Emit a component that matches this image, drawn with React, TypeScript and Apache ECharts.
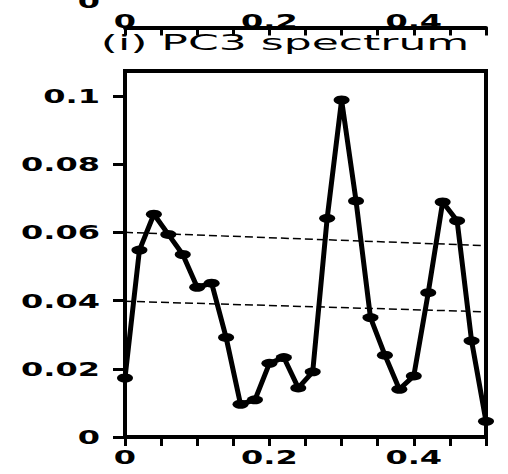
import React, { useEffect, useRef } from "react";
import * as echarts from "echarts";

const freqs = [0, 0.02, 0.04, 0.06, 0.08, 0.1, 0.12, 0.14, 0.16, 0.18, 0.2, 0.22, 0.24, 0.26, 0.28, 0.3, 0.32, 0.34, 0.36, 0.38, 0.4, 0.42, 0.44, 0.46, 0.48, 0.5];
const spectrum = [0.0173, 0.0548, 0.0653, 0.0594, 0.0535, 0.0439, 0.0451, 0.0292, 0.0096, 0.0109, 0.0216, 0.0233, 0.0144, 0.0191, 0.0641, 0.0988, 0.0692, 0.035, 0.024, 0.014, 0.0179, 0.0423, 0.0689, 0.0634, 0.0282, 0.0046];
const upperBound = [[0, 0.06], [0.5, 0.0561]];
const lowerBound = [[0, 0.0398], [0.5, 0.0367]];
const xTicks = [0, 0.05, 0.1, 0.15, 0.2, 0.25, 0.3, 0.35, 0.4, 0.45, 0.5];
const xTickLabels = [0, 0.2, 0.4];
const yTickLabels = [0, 0.02, 0.04, 0.06, 0.08, 0.1];
const titleText = "(i) PC3 spectrum";

const FONT = "DejaVu Sans";
const LABEL_SCALE = 1.6;

export default function App() {
  const ref = useRef<HTMLDivElement>(null);
  useEffect(() => {
    const chart = echarts.init(ref.current!, null, { renderer: "svg" });
    const axisLine = { show: true, onZero: false, lineStyle: { color: "#000", width: 4 } };
    chart.setOption({
      animation: false,
      backgroundColor: "#fff",
      grid: [
        { left: 125, top: 71, width: 361, height: 366, show: true, borderColor: "#000", borderWidth: 4, backgroundColor: "transparent" },
        { left: 125, top: -100, width: 361, height: 102 },
      ],
      xAxis: [
        {
          type: "value", gridIndex: 0, position: "bottom", min: 0, max: 0.5, interval: 0.05,
          axisLine, axisTick: { show: true, inside: false, length: 9, customValues: xTicks, lineStyle: { color: "#000", width: 3 } },
          axisLabel: { show: false }, splitLine: { show: false },
        },
        {
          type: "value", gridIndex: 1, position: "bottom", min: 0, max: 0.5, interval: 0.05,
          axisLine, axisTick: { show: true, inside: false, length: 8, customValues: xTicks, lineStyle: { color: "#000", width: 3 } },
          axisLabel: { show: false }, splitLine: { show: false },
        },
      ],
      yAxis: [
        {
          type: "value", gridIndex: 0, min: 0, max: 0.1073, interval: 0.02,
          axisLine, axisTick: { show: true, length: 12, customValues: yTickLabels, lineStyle: { color: "#000", width: 3 } },
          axisLabel: { show: false }, splitLine: { show: false },
        },
        {
          type: "value", gridIndex: 1, min: 0, max: 1, show: false,
        },
      ],
      series: [
        {
          type: "line", xAxisIndex: 0, yAxisIndex: 0,
          data: upperBound, symbol: "none",
          lineStyle: { color: "#000", width: 1.5, type: [8, 4] }, z: 1,
        },
        {
          type: "line", xAxisIndex: 0, yAxisIndex: 0,
          data: lowerBound, symbol: "none",
          lineStyle: { color: "#000", width: 1.5, type: [8, 4] }, z: 1,
        },
        {
          type: "line", xAxisIndex: 0, yAxisIndex: 0,
          data: freqs.map((f, i) => [f, spectrum[i]]),
          symbol: "circle", symbolSize: [16, 9],
          itemStyle: { color: "#000" },
          lineStyle: { color: "#000", width: 5 }, z: 3,
        },
      ],
    });

    const labelStyle = (text: string, align: string) => ({
      text, x: 0, y: 0, align, verticalAlign: "middle",
      fill: "#000", font: `bold 20px "${FONT}"`,
    });
    const graphics: any[] = [];
    xTickLabels.forEach((v) => {
      const px = chart.convertToPixel({ xAxisIndex: 0 }, v) as number;
      graphics.push({ type: "text", x: px, y: 457, scaleX: LABEL_SCALE, style: labelStyle(String(v), "center") });
      const px2 = chart.convertToPixel({ xAxisIndex: 1 }, v) as number;
      graphics.push({ type: "text", x: px2, y: 21, scaleX: LABEL_SCALE, style: labelStyle(String(v), "center") });
    });
    yTickLabels.forEach((v) => {
      const py = chart.convertToPixel({ yAxisIndex: 0 }, v) as number;
      graphics.push({ type: "text", x: 100, y: py, scaleX: LABEL_SCALE, style: labelStyle(String(v), "right") });
    });
    graphics.push({ type: "text", x: 100, y: 1, scaleX: LABEL_SCALE, style: labelStyle("0", "right") });
    graphics.push({
      type: "text", x: 285, y: 43, scaleX: 2.1,
      style: { text: titleText, x: 0, y: 0, align: "center", verticalAlign: "middle", fill: "#000", font: `21px "${FONT}"` },
    });
    chart.setOption({ graphic: graphics });

    return () => chart.dispose();
  }, []);
  return <div ref={ref} style={{ position: "fixed", left: 0, top: 0, width: 508, height: 474 }} />;
}
